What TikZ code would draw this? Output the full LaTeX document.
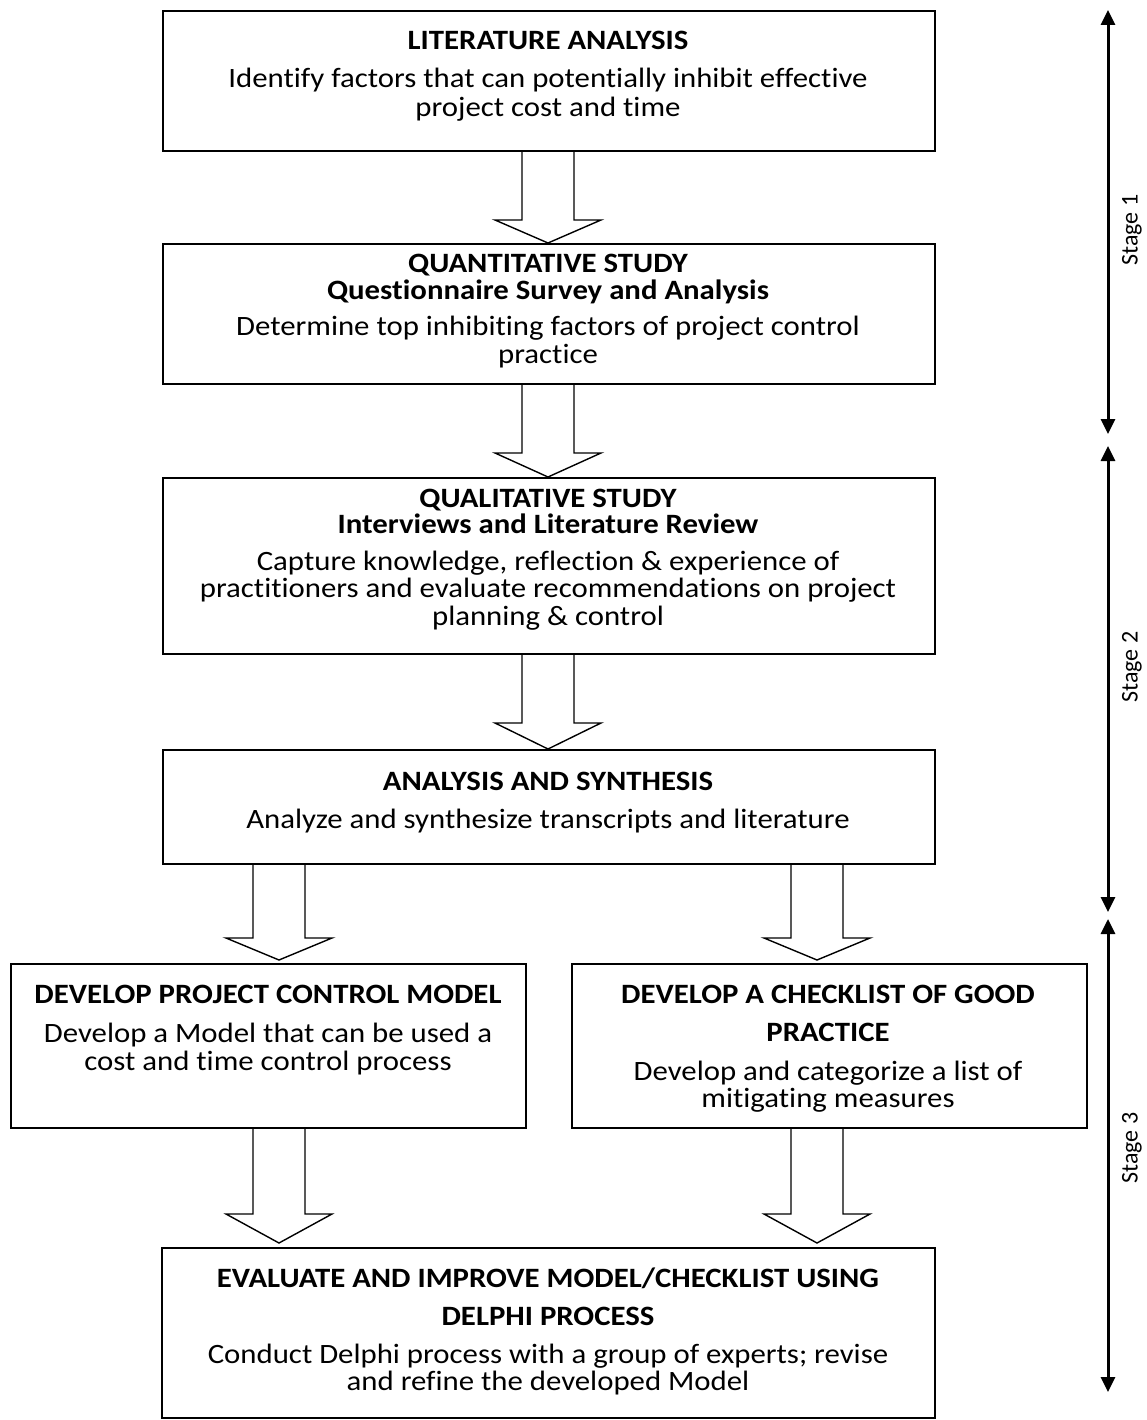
\documentclass[tikz,border=0pt]{standalone}
\usepackage{fontspec}
\setmainfont{Carlito}[FakeStretch=1.1,Ligatures=NoCommon]
\newfontfamily\stagefont{Carlito}[Ligatures=NoCommon]
\usetikzlibrary{arrows.meta,calc}
\tikzset{
 box/.style={draw=black, line width=1.8pt, anchor=north west, inner sep=0pt},
 ttl/.style={anchor=base, inner sep=0pt, font=\fontsize{28}{29}\selectfont\bfseries},
 bod/.style={anchor=base, inner sep=0pt, font=\fontsize{28}{29}\selectfont},
 blk/.style={draw=black, line width=1.4pt, line join=miter},
 stagearr/.style={line width=3pt, {Triangle[width=14pt,length=15pt]}-{Triangle[width=14pt,length=15pt]}},
 stagelbl/.style={rotate=90, font=\stagefont\fontsize{24}{26}\selectfont, inner sep=0pt},
}
\newcommand\blockarr[3]{\draw[blk] let \p1=(#1), \p2=(#2) in (\x1-26pt,\y1) -- (\x1-26pt,\y2+#3pt) -- (\x1-53pt,\y2+#3pt) -- (\x2,\y2) -- (\x1+53pt,\y2+#3pt) -- (\x1+26pt,\y2+#3pt) -- (\x1+26pt,\y1);}
\begin{document}
\begin{tikzpicture}[x=1pt,y=-1pt]
\useasboundingbox (0,0) rectangle (1147,1420);
% boxes
\node[box, minimum width=772pt, minimum height=140pt] (b1) at (162,10) {};
\node[box, minimum width=772pt, minimum height=140pt] (b2) at (162,243) {};
\node[box, minimum width=772pt, minimum height=176pt] (b3) at (162,477) {};
\node[box, minimum width=772pt, minimum height=114pt] (b4) at (162,749) {};
\node[box, minimum width=515pt, minimum height=164pt] (b5) at (10,963) {};
\node[box, minimum width=515pt, minimum height=164pt] (b6) at (571,963) {};
\node[box, minimum width=773pt, minimum height=170pt] (b7) at (161,1247) {};
% texts
\node[ttl] (t1a) at (548,50) {LITERATURE ANALYSIS};
\node[bod] (t1b) at (548,88) {Identify factors that can potentially inhibit effective};
\node[bod] (t1c) at (548,117) {project cost and time};
\node[ttl] (t2a) at (548,273) {QUANTITATIVE STUDY};
\node[ttl] (t2b) at (548,299) {Questionnaire Survey and Analysis};
\node[bod] (t2c) at (548,335) {Determine top inhibiting factors of project control};
\node[bod] (t2d) at (548,363) {practice};
\node[ttl] (t3a) at (548,507) {QUALITATIVE STUDY};
\node[ttl] (t3b) at (548,533) {Interviews and Literature Review};
\node[bod] (t3c) at (548,570) {Capture knowledge, reflection \& experience of};
\node[bod] (t3d) at (548,597) {practitioners and evaluate recommendations on project};
\node[bod] (t3e) at (548,625) {planning \& control};
\node[ttl] (t4a) at (548,790) {ANALYSIS AND SYNTHESIS};
\node[bod] (t4b) at (548,828) {Analyze and synthesize transcripts and literature};
\node[ttl] (t5a) at (268,1003) {DEVELOP PROJECT CONTROL MODEL};
\node[bod] (t5b) at (268,1042) {Develop a Model that can be used a};
\node[bod] (t5c) at (268,1070) {cost and time control process};
\node[ttl] (t6a) at (828,1003) {DEVELOP A CHECKLIST OF GOOD};
\node[ttl] (t6b) at (828,1041) {PRACTICE};
\node[bod] (t6c) at (828,1080) {Develop and categorize a list of};
\node[bod] (t6d) at (828,1107) {mitigating measures};
\node[ttl] (t7a) at (548,1287) {EVALUATE AND IMPROVE MODEL/CHECKLIST USING};
\node[ttl] (t7b) at (548,1325) {DELPHI PROCESS};
\node[bod] (t7c) at (548,1363) {Conduct Delphi process with a group of experts; revise};
\node[bod] (t7d) at (548,1390) {and refine the developed Model};
% block arrow anchor points
\coordinate (a1s) at (548,0 |- b1.south);
\coordinate (a1e) at (548,0 |- b2.north);
\coordinate (a2s) at (548,0 |- b2.south);
\coordinate (a2e) at (548,0 |- b3.north);
\coordinate (a3s) at (548,0 |- b3.south);
\coordinate (a3e) at (548,0 |- b4.north);
\coordinate (a4s) at (279,0 |- b4.south);
\coordinate (a4e) at (279,960);
\coordinate (a5s) at (817,0 |- b4.south);
\coordinate (a5e) at (817,960);
\coordinate (a6s) at (279,0 |- b5.south);
\coordinate (a6e) at (279,1243);
\coordinate (a7s) at (817,0 |- b6.south);
\coordinate (a7e) at (817,1243);
\blockarr{a1s}{a1e}{23}
\blockarr{a2s}{a2e}{24}
\blockarr{a3s}{a3e}{26}
\blockarr{a4s}{a4e}{22}
\blockarr{a5s}{a5e}{22}
\blockarr{a6s}{a6e}{29}
\blockarr{a7s}{a7e}{29}
% stage arrows
\coordinate (s1t) at (1108,10);
\coordinate (s1b) at (1108,434);
\coordinate (s2t) at (1108,446);
\coordinate (s2b) at (1108,912);
\coordinate (s3t) at (1108,919);
\coordinate (s3b) at (1108,1392);
\draw[stagearr] (s1t) -- (s1b);
\draw[stagearr] (s2t) -- (s2b);
\draw[stagearr] (s3t) -- (s3b);
\node[stagelbl] (st1) at (1132,230) {Stage 1};
\node[stagelbl] (st2) at (1132,667) {Stage 2};
\node[stagelbl] (st3) at (1132,1148) {Stage 3};
\end{tikzpicture}
\end{document}
